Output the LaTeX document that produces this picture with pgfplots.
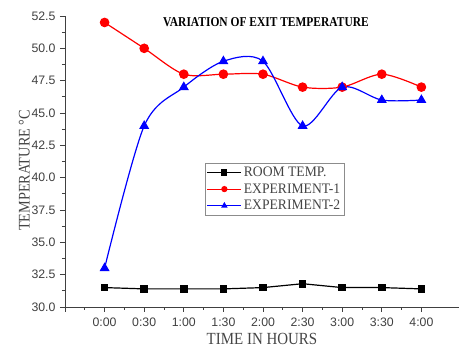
\documentclass[border=0pt]{standalone}
\usepackage{fontspec}
\setmainfont{Liberation Serif}
\newfontfamily\arialfont{Liberation Sans}
\usepackage{pgfplots}
\pgfplotsset{compat=1.18}
\definecolor{tickgray}{HTML}{404040}
\definecolor{labgray}{HTML}{454545}
\begin{document}
\begin{tikzpicture}
\begin{axis}[
  scale only axis,
  width=394pt, height=291pt,
  xmin=-1, xmax=8.95,
  ymin=30, ymax=52.5,
  axis x line*=bottom, axis y line*=left,
  axis line style={tickgray, line width=0.8pt, -},
  tick style={tickgray, line width=0.7pt},
  tick align=outside,
  major tick length=5pt, minor tick length=3pt,
  xtick={-1,0,1,2,3,4,5,6,7,8},
  xticklabels={,0:00,0:30,1:00,1:30,2:00,2:30,3:00,3:30,4:00},
  minor x tick num=1,
  ytick={30,32.5,...,52.5},
  minor y tick num=1,
  yticklabel style={/pgf/number format/fixed, /pgf/number format/fixed zerofill, /pgf/number format/precision=1, xshift=-1pt},
  /pgf/number format/assume math mode=true,
  ticklabel style={font=\arialfont\fontsize{12.3}{12.3}\selectfont, text=tickgray},
  xticklabel style={yshift=-2pt},
  xlabel={\scalebox{0.88}[1]{TIME IN HOURS}},
  ylabel={\scalebox{0.88}[1]{TEMPERATURE °C}},
  xlabel style={font=\fontsize{17}{17}\selectfont, text=labgray, yshift=0pt},
  ylabel style={font=\fontsize{16.2}{16.2}\selectfont, text=labgray, yshift=-5pt, xshift=-9pt},
  clip=false,
  legend style={at={(rel axis cs:0.355,0.495)}, anchor=north west,
    font=\fontsize{14.5}{14.5}\selectfont, text=labgray, draw=black!45, line width=0.6pt,
    inner sep=2pt, outer sep=0pt, row sep=1.5pt, cells={anchor=west},
    /tikz/every even column/.append style={column sep=0pt}},
  legend image code/.code={\draw[#1, line width=1pt] (0pt,0pt) -- (34pt,0pt); \draw[#1, only marks, mark size=2.5pt] plot coordinates {(17pt,0pt)};},
]
\coordinate (LL) at (rel axis cs:0,0);
\coordinate (UR) at (rel axis cs:1,1);
\addplot[black, line width=1.2pt, mark=square*, mark size=3.2pt, mark options={solid}] coordinates {
(0,31.5) (1,31.4) (2,31.4) (3,31.4) (4,31.5) (5,31.8) (6,31.5) (7,31.5) (8,31.4)};
\addlegendentry{\scalebox{0.94}[1]{ROOM TEMP.}}
\addplot[red, line width=1.2pt, smooth, mark=*, mark size=4.2pt] coordinates {
(0,52) (1,50) (2,48) (3,48) (4,48) (5,47) (6,47) (7,48) (8,47)};
\addlegendentry{\scalebox{0.94}[1]{EXPERIMENT-1}}
\addplot[blue, line width=1.2pt, smooth, mark=triangle*, mark size=4.6pt] coordinates {
(0,33) (1,44) (2,47) (3,49) (4,49) (5,44) (6,47) (7,46) (8,46)};
\addlegendentry{\scalebox{0.94}[1]{EXPERIMENT-2}}
\node[font=\bfseries\fontsize{13.5}{13.5}\selectfont, anchor=center] at (rel axis cs:0.51,0.979) {\scalebox{0.85}[1]{VARIATION OF EXIT TEMPERATURE}};
\end{axis}
\pgfresetboundingbox
\useasboundingbox ([shift={(-65pt,-48pt)}]LL) rectangle ([shift={(0pt,16pt)}]UR);
\end{tikzpicture}
\end{document}
